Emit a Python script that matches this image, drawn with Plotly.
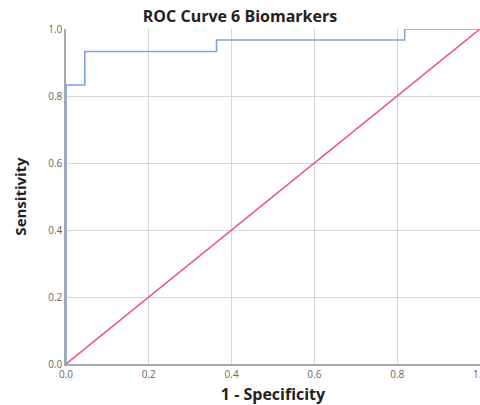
import plotly.graph_objects as go

# ROC operating points (1 - specificity, sensitivity)
fpr = [0.0, 0.0, 0.0455, 0.0455, 0.3636, 0.3636, 0.8182, 0.8182, 1.0]
tpr = [0.0, 0.833, 0.833, 0.933, 0.933, 0.967, 0.967, 1.0, 1.0]

# Reference (chance) line
ref_x = [0.0, 1.0]
ref_y = [0.0, 1.0]

tick_vals = [0.0, 0.2, 0.4, 0.6, 0.8, 1.0]
tick_text = ["0.0", "0.2", "0.4", "0.6", "0.8", "1.0"]

fig = go.Figure()
fig.add_trace(go.Scatter(x=ref_x, y=ref_y, mode="lines",
                         line=dict(color="#ec5a7a", width=1.6),
                         showlegend=False, cliponaxis=False))
fig.add_trace(go.Scatter(x=fpr, y=tpr, mode="lines",
                         line=dict(color="#7aa6dc", width=1.6, shape="linear"),
                         showlegend=False, cliponaxis=False))

font_bold = "Open Sans"
fig.update_layout(
    width=480, height=405,
    margin=dict(l=66, r=0, t=29, b=41, autoexpand=False),
    paper_bgcolor="white", plot_bgcolor="white",
    title=dict(text="<b>ROC Curve 6 Biomarkers</b>", x=0.5, xref="container",
               y=1 - 16 / 405, yref="container", yanchor="middle", xanchor="center",
               font=dict(family=font_bold, size=16, color="#222")),
    xaxis=dict(range=[0, 1], tickvals=tick_vals, ticktext=tick_text,
               showgrid=True, gridcolor="#d6d6d6", gridwidth=1,
               showline=True, linecolor="#a8a8a8", linewidth=1.5,
               zeroline=False, ticks="", ticklen=0,
               ticklabeloverflow="allow", automargin=False,
               tickfont=dict(family="Open Sans", size=10, color="#666"),
               title=dict(text="<b>1 - Specificity</b>", standoff=12,
                          font=dict(family=font_bold, size=16, color="#222"))),
    yaxis=dict(range=[0, 1], tickvals=tick_vals, ticktext=tick_text,
               showgrid=True, gridcolor="#d6d6d6", gridwidth=1,
               showline=True, linecolor="#a8a8a8", linewidth=1.5,
               zeroline=False, ticks="", ticklen=0, automargin=False,
               tickfont=dict(family="Open Sans", size=10, color="#666"),
               title=dict(text="<b>Sensitivity</b>", standoff=18,
                          font=dict(family=font_bold, size=15, color="#222"))),
)

fig.write_html("out.html")
